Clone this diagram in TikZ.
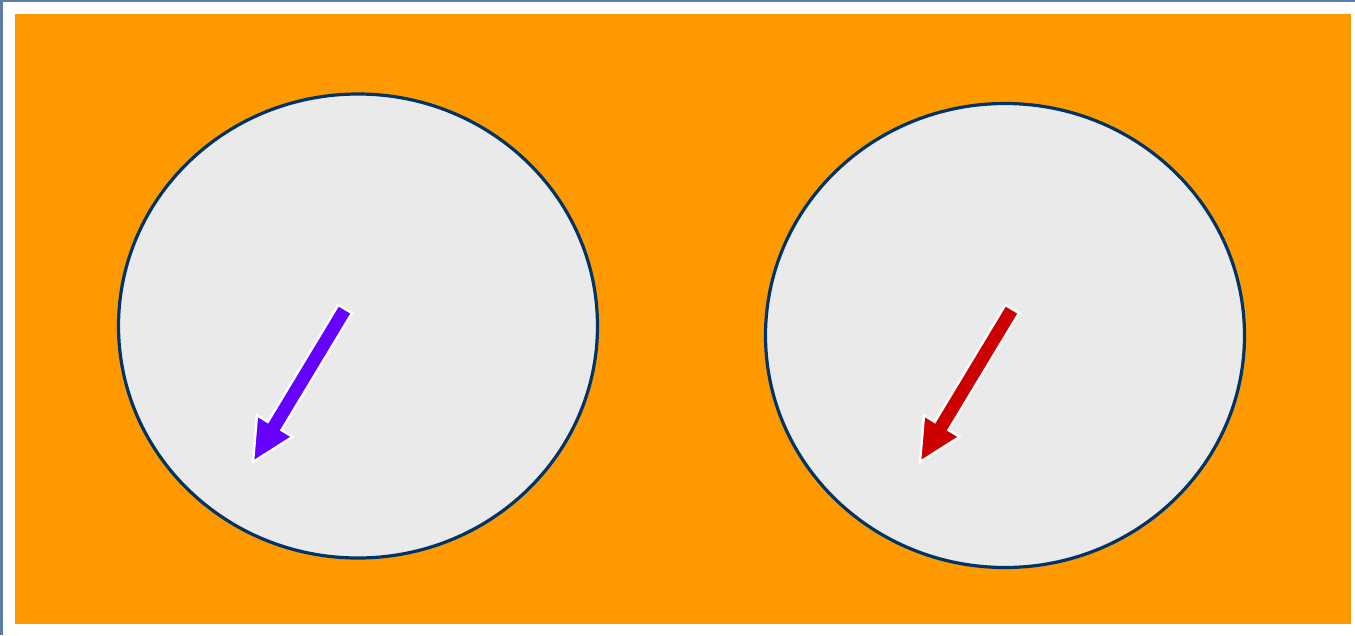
\documentclass[tikz,border=0pt]{standalone}
\usetikzlibrary{shapes.geometric}
\definecolor{bgorange}{HTML}{FF9900}
\definecolor{disk}{HTML}{EAEAEA}
\definecolor{rim}{HTML}{003366}
\definecolor{frame}{HTML}{5E7FA5}
\definecolor{arrpurple}{HTML}{6600FF}
\definecolor{arrred}{HTML}{CC0000}
\tikzset{
  diskshape/.style={ellipse, draw=rim, fill=disk, line width=3.2pt, inner sep=0pt},
  arrowshape/.style={draw=white, line width=2.4pt, line join=miter},
}
\newcommand{\arrowpoly}{(352.0,313.1) -- (281.5,430.1) -- (292.6,436.8) -- (253,462) -- (257.0,415.2) -- (267.8,421.9) -- (338.3,304.9) -- cycle}
\begin{document}
\begin{tikzpicture}[x=1pt,y=-1pt]
\useasboundingbox (0,0) rectangle (1355,635);
\fill[white] (0,0) rectangle (1355,635);
\fill[frame] (0,0) rectangle (3,635);
\fill[frame] (0,0) rectangle (1355,2);
\fill[bgorange] (15,14) rectangle (1351,624);
\node[diskshape, minimum width=479pt, minimum height=464pt] (left) at (358,326) {};
\node[diskshape, minimum width=479pt, minimum height=464pt] (right) at (1005,335.5) {};
\fill[arrpurple] \arrowpoly;
\draw[arrowshape] \arrowpoly;
\begin{scope}[shift={(667,0)}]
\fill[arrred] \arrowpoly;
\draw[arrowshape] \arrowpoly;
\end{scope}
\end{tikzpicture}
\end{document}
